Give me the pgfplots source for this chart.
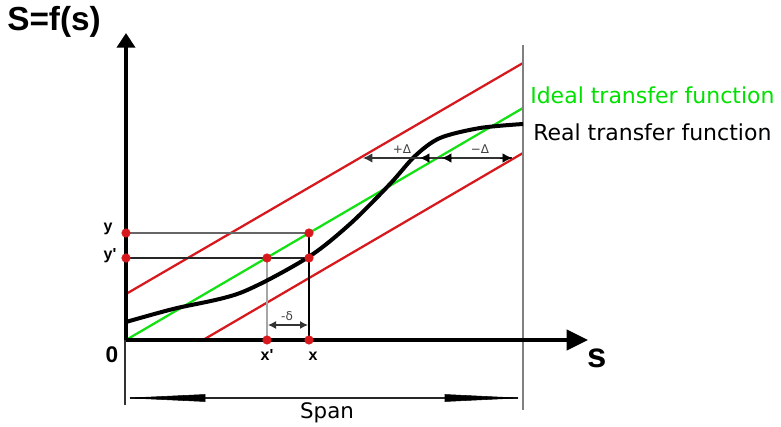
\documentclass[border=0pt]{standalone}
\usepackage{pgfplots}
\pgfplotsset{compat=1.18}
\usetikzlibrary{arrows.meta}
\usepackage{fontspec}
\setmainfont{DejaVu Sans}
\newfontfamily\arialb{Liberation Sans}[BoldFont={Liberation Sans Bold}]
\definecolor{myred}{RGB}{215,25,30}
\definecolor{mygreen}{RGB}{20,225,20}
\definecolor{txtgreen}{RGB}{0,225,0}
\begin{document}
\begin{tikzpicture}
\begin{axis}[
  x=0.75pt, y=0.75pt,
  xmin=0, xmax=781, ymin=0, ymax=427,
  y dir=reverse,
  hide axis, clip=false,
]
\addplot[draw=none] coordinates {(0,0)(781,427)};
% red tolerance lines
\addplot[myred, line width=1.7pt] coordinates {(126,294)(523,63)};
\addplot[myred, line width=1.7pt] coordinates {(203,340)(523,153)};
% green ideal
\addplot[mygreen, line width=1.7pt] coordinates {(126,340)(523,108)};
% span right border
\addplot[gray, line width=1.4pt] coordinates {(523,45)(523,410)};
% helper lines
\addplot[gray!80!black, line width=1.1pt] coordinates {(126,233)(309,233)};
\addplot[black!85, line width=1.1pt] coordinates {(126,258)(309,258)};
\addplot[black, line width=1.3pt] coordinates {(309,233)(309,340)};
\addplot[gray!70, line width=1.3pt] coordinates {(267,258)(267,340)};
% real curve
\addplot[black, line width=3pt, smooth] coordinates {
 (126,322)(173,309)(240,293)(307,258)(350,224)(390,184)(415,156)(440,138)(480,128)(523,124)};
% axes
\addplot[black, line width=3pt, -{Triangle[length=11pt,width=13.5pt]}] coordinates {(126,342)(126,33)};
\addplot[black, line width=3pt, -{Triangle[length=16pt,width=15pt]}] coordinates {(124,340)(588,340)};
\addplot[black!80, line width=1.2pt] coordinates {(125,340)(125,405)};
% delta arrows
\addplot[black!80, line width=1pt, {Latex[length=6pt,width=6pt]}-{Latex[length=6pt,width=6pt]}] coordinates {(268,325)(308,325)};
\addplot[black!80, line width=1pt, {Latex[length=7pt,width=7pt]}-] coordinates {(363,158)(512,158)};
\addplot[black, -{Latex[length=7pt,width=7pt]}] coordinates {(430,158)(420,158)};
\addplot[black, -{Latex[length=7pt,width=7pt]}] coordinates {(452,158)(442,158)};
\addplot[black, -{Latex[length=7pt,width=7pt]}] coordinates {(500,158)(512,158)};
% span arrow
\addplot[black!85, line width=1.2pt] coordinates {(130,398)(518,398)};
\addplot[black, fill=black] coordinates {(130,398)(205,394.5)(205,401.5)(130,398)};
\addplot[black, fill=black] coordinates {(518,398)(445,394.5)(445,401.5)(518,398)};
% red dots
\addplot[only marks, mark=*, mark size=3.2pt, myred] coordinates {
 (126,233)(126,258)(267,258)(309,233)(309,258)(267,340)(309,340)};
% texts
\node[anchor=west, inner sep=0pt, font=\arialb\bfseries\fontsize{25}{25}\selectfont] at (axis cs:7,22) {S=f(s)};
\node[inner sep=0pt, font=\arialb\bfseries\fontsize{26}{26}\selectfont] at (axis cs:597,358) {s};
\node[inner sep=0pt, font=\arialb\bfseries\fontsize{17}{17}\selectfont] at (axis cs:112,355) {0};
\node[inner sep=0pt, font=\arialb\bfseries\fontsize{12}{12}\selectfont] at (axis cs:108,229) {y};
\node[inner sep=0pt, font=\arialb\bfseries\fontsize{12}{12}\selectfont] at (axis cs:110,256) {y'};
\node[inner sep=0pt, font=\arialb\bfseries\fontsize{12}{12}\selectfont] at (axis cs:267,355) {x'};
\node[inner sep=0pt, font=\arialb\bfseries\fontsize{12}{12}\selectfont] at (axis cs:313,356) {x};
\node[inner sep=0pt, font=\fontsize{9}{9}\selectfont, text=black!75] at (axis cs:287,316) {-δ};
\node[inner sep=0pt, font=\fontsize{9}{9}\selectfont, text=black!75] at (axis cs:402,149) {+Δ};
\node[inner sep=0pt, font=\fontsize{9}{9}\selectfont, text=black!75] at (axis cs:480,149) {−Δ};
\node[anchor=west, inner sep=0pt, text=txtgreen, font=\fontsize{16.5}{16.5}\selectfont] at (axis cs:530,95) {Ideal transfer function};
\node[anchor=west, inner sep=0pt, text=black, font=\fontsize{16.5}{16.5}\selectfont] at (axis cs:533,132) {Real transfer function};
\node[inner sep=0pt, font=\fontsize{16}{16}\selectfont] at (axis cs:327,413) {Span};
\end{axis}
\end{tikzpicture}
\end{document}
